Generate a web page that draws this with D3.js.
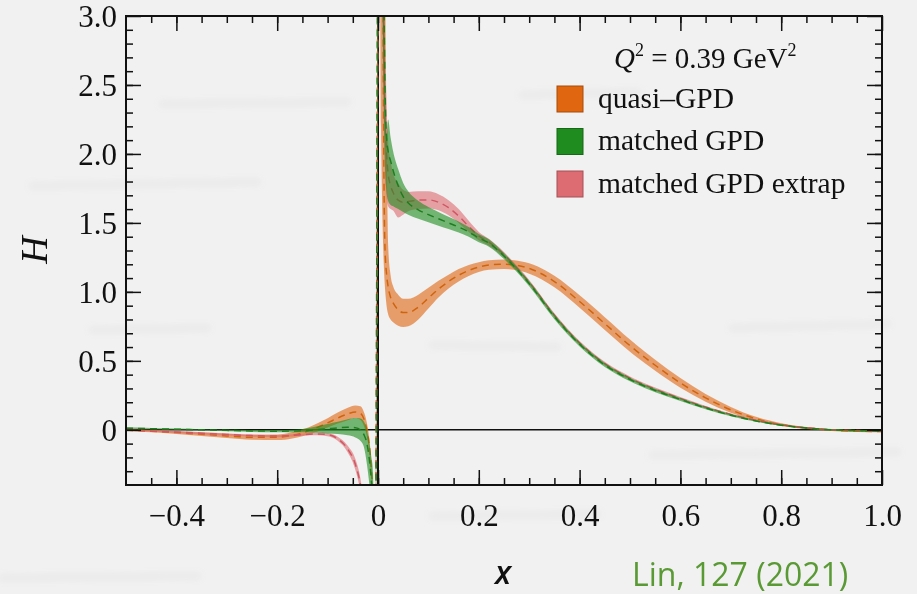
<!DOCTYPE html>
<html>
<head>
<meta charset="utf-8">
<script src="https://cdn.jsdelivr.net/npm/d3@7"></script>
<style>
  body { margin: 0; background: #f1f1f1; overflow: hidden; }
  svg { display: block; }
</style>
</head>
<body>
<div id="chart"></div>
<script>

// x grid shared by the three bands
let xGrid = [-0.5, -0.45, -0.4, -0.35, -0.3, -0.25, -0.2, -0.17, -0.15, -0.12, -0.1, -0.08, -0.06, -0.045, -0.035, -0.028, -0.022, -0.017, -0.013, -0.01, -0.006,
  0.003, 0.006, 0.009, 0.0105, 0.012, 0.014, 0.017, 0.02, 0.025, 0.03, 0.04, 0.05, 0.06, 0.08, 0.1, 0.12, 0.14, 0.16, 0.18, 0.2, 0.22, 0.25, 0.27, 0.3,
  0.35, 0.4, 0.45, 0.5, 0.55, 0.6, 0.65, 0.7, 0.75, 0.8, 0.85, 0.9, 0.95, 1.0]

// quasi-GPD
let quasiMid = [-0.002, -0.01, -0.02, -0.032, -0.044, -0.054, -0.054, -0.04, -0.022, 0.018, 0.05, 0.085, 0.115, 0.13, 0.12, 0.08, 0.0, -0.12, -0.3, -0.5, -1.2,
  5.5, 4.3, 3.4, 2.6, 1.75, 1.3, 1.13, 1.04, 0.96, 0.92, 0.87, 0.85, 0.85, 0.89, 0.955, 1.02, 1.075, 1.12, 1.155, 1.18, 1.195, 1.2, 1.195, 1.17,
  1.075, 0.93, 0.77, 0.61, 0.468, 0.34, 0.232, 0.145, 0.08, 0.038, 0.013, -0.002, -0.01, -0.012]
let quasiLo = [-0.008, -0.018, -0.03, -0.045, -0.06, -0.072, -0.074, -0.062, -0.046, -0.012, 0.016, 0.045, 0.07, 0.085, 0.072, 0.03, -0.05, -0.17, -0.36, -0.56, -1.3,
  3.6, 2.2, 1.5, 1.3, 1.15, 1.02, 0.9, 0.84, 0.8, 0.78, 0.755, 0.745, 0.75, 0.8, 0.88, 0.96, 1.025, 1.075, 1.115, 1.145, 1.16, 1.165, 1.16, 1.132,
  1.033, 0.885, 0.724, 0.566, 0.428, 0.305, 0.204, 0.124, 0.066, 0.028, 0.006, -0.008, -0.016, -0.018]
let quasiHi = [0.004, -0.002, -0.01, -0.02, -0.028, -0.036, -0.034, -0.018, 0.002, 0.048, 0.084, 0.125, 0.16, 0.176, 0.17, 0.13, 0.05, -0.07, -0.24, -0.44, -1.1,
  7, 6, 5, 4.5, 4.0, 3.4, 2.2, 1.35, 1.12, 1.04, 0.98, 0.95, 0.95, 0.98, 1.03, 1.08, 1.125, 1.165, 1.195, 1.215, 1.23, 1.235, 1.23, 1.208,
  1.117, 0.975, 0.816, 0.654, 0.508, 0.375, 0.26, 0.166, 0.094, 0.048, 0.02, 0.004, -0.004, -0.006]

// matched GPD
let matchedMid = [0.012, 0.008, 0.004, 0.0, -0.004, -0.008, -0.01, -0.009, -0.006, 0.002, 0.008, 0.014, 0.018, 0.015, 0.0, -0.035, -0.1, -0.22, -0.38, -0.55, -1.5,
  6.5, 5.0, 4.0, 3.4, 3.0, 2.45, 2.12, 2.02, 1.95, 1.88, 1.77, 1.69, 1.645, 1.595, 1.56, 1.53, 1.5, 1.47, 1.435, 1.39, 1.355, 1.26, 1.185, 1.06,
  0.82, 0.62, 0.47, 0.365, 0.285, 0.22, 0.158, 0.106, 0.064, 0.034, 0.013, 0.0, -0.006, -0.008]
let matchedLo = [0.006, 0.003, -0.001, -0.005, -0.01, -0.015, -0.018, -0.019, -0.018, -0.022, -0.026, -0.03, -0.04, -0.055, -0.08, -0.125, -0.25, -0.4, -0.55, -0.75, -1.8,
  5.5, 4.2, 3.2, 2.6, 2.2, 1.9, 1.72, 1.66, 1.63, 1.62, 1.6, 1.58, 1.56, 1.53, 1.505, 1.48, 1.455, 1.43, 1.4, 1.36, 1.328, 1.238, 1.165, 1.041,
  0.802, 0.604, 0.456, 0.352, 0.273, 0.209, 0.149, 0.098, 0.058, 0.029, 0.009, -0.004, -0.01, -0.012]
let matchedHi = [0.018, 0.013, 0.009, 0.005, 0.002, -0.001, -0.002, 0.001, 0.006, 0.026, 0.042, 0.058, 0.076, 0.085, 0.082, 0.06, 0.0, -0.1, -0.2, -0.3, -1.2,
  7.5, 6, 5, 4.3, 3.6, 2.5, 2.12, 2.25, 2.12, 2.02, 1.89, 1.79, 1.73, 1.66, 1.615, 1.58, 1.545, 1.51, 1.47, 1.42, 1.382, 1.282, 1.205, 1.079,
  0.838, 0.636, 0.484, 0.378, 0.297, 0.231, 0.167, 0.114, 0.07, 0.039, 0.017, 0.004, -0.002, -0.004]

// matched GPD extrap
let extrapMid = [0.0, -0.008, -0.016, -0.025, -0.034, -0.042, -0.045, -0.04, -0.035, -0.03, -0.035, -0.065, -0.14, -0.25, -0.4, -0.6, -0.85, -1.1, -1.4, -1.7, -2.2,
  6.0, 4.6, 3.6, 3.1, 2.7, 2.3, 2.0, 1.86, 1.77, 1.72, 1.665, 1.65, 1.655, 1.665, 1.667, 1.65, 1.61, 1.55, 1.475, 1.405, 1.36, 1.27, 1.195, 1.07,
  0.83, 0.63, 0.48, 0.375, 0.295, 0.228, 0.165, 0.112, 0.069, 0.037, 0.015, 0.001, -0.005, -0.008]
let extrapLo = [-0.006, -0.014, -0.023, -0.033, -0.042, -0.05, -0.053, -0.048, -0.043, -0.04, -0.047, -0.08, -0.165, -0.29, -0.45, -0.66, -0.9, -1.2, -1.5, -1.8, -2.3,
  5.0, 3.8, 2.9, 2.5, 2.15, 1.85, 1.68, 1.62, 1.6, 1.59, 1.54, 1.56, 1.585, 1.6, 1.605, 1.592, 1.555, 1.5, 1.435, 1.375, 1.335, 1.25, 1.177, 1.053,
  0.815, 0.616, 0.467, 0.363, 0.284, 0.218, 0.157, 0.105, 0.063, 0.032, 0.011, -0.003, -0.009, -0.012]
let extrapHi = [0.006, -0.002, -0.009, -0.017, -0.026, -0.034, -0.037, -0.032, -0.027, -0.02, -0.023, -0.05, -0.115, -0.21, -0.35, -0.54, -0.8, -1.0, -1.3, -1.6, -2.1,
  7, 5.5, 4.4, 3.8, 3.3, 2.8, 2.35, 2.1, 1.95, 1.86, 1.79, 1.74, 1.725, 1.73, 1.729, 1.708, 1.665, 1.6, 1.515, 1.435, 1.385, 1.29, 1.213, 1.087,
  0.845, 0.644, 0.493, 0.387, 0.306, 0.238, 0.173, 0.119, 0.075, 0.042, 0.019, 0.005, -0.001, -0.004]

let xTicks = [-0.4, -0.2, 0, 0.2, 0.4, 0.6, 0.8, 1.0]
let xTickLabels = ["\u22120.4", "\u22120.2", "0", "0.2", "0.4", "0.6", "0.8", "1.0"]
let xMinorTicks = d3.range(-9, 20).map(i => i * 0.05)
let yTicks = [0, 0.5, 1.0, 1.5, 2.0, 2.5, 3.0]
let yTickLabels = ["0", "0.5", "1.0", "1.5", "2.0", "2.5", "3.0"]
let yMinorTicks = d3.range(-3, 30).map(i => i * 0.1)

let seriesNames  = ["quasi\u2013GPD", "matched GPD", "matched GPD extrap"]
let seriesColors = ["#e0660f", "#1e8c1e", "#dd6b72"]
let lineColors   = ["#cf6410", "#1f7d1f", "#cf5863"]

let width = 917, height = 594
let margin = {top: 16, right: 35, bottom: 109, left: 126}

let svg = d3.select("#chart")
  .append("svg")
  .attr("width", width)
  .attr("height", height)

// faint brick-wall streaks behind the plot
let streaks = [[160, 104, 350, 102], [30, 186, 260, 182], [90, 330, 210, 328], [730, 328, 890, 324],
  [430, 345, 560, 347], [650, 455, 900, 452], [430, 516, 600, 514], [0, 578, 200, 576], [520, 95, 640, 92]]
let defs = svg.append("defs")
defs.append("filter").attr("id", "blur").append("feGaussianBlur").attr("stdDeviation", 3)
svg.append("g").attr("filter", "url(#blur)")
  .selectAll("line")
  .data(streaks)
  .enter()
  .append("line")
  .attr("x1", d => d[0]).attr("y1", d => d[1])
  .attr("x2", d => d[2]).attr("y2", d => d[3])
  .attr("stroke", "#bdbdbd")
  .attr("stroke-width", 4)
  .attr("opacity", 0.22)

let x = d3.scaleLinear()
  .domain([-0.5, 1.0])
  .range([margin.left, width - margin.right])

let y = d3.scaleLinear()
  .domain([-0.4, 3.0])
  .range([height - margin.bottom, margin.top])

defs.append("clipPath").attr("id", "plotclip")
  .append("rect")
  .attr("x", x(-0.5)).attr("y", y(3.0))
  .attr("width", x(1.0) - x(-0.5)).attr("height", y(-0.4) - y(3.0))

let bands = [
  {mid: quasiMid, lo: quasiLo, hi: quasiHi},
  {mid: matchedMid, lo: matchedLo, hi: matchedHi},
  {mid: extrapMid, lo: extrapLo, hi: extrapHi}
]

let area = d3.area()
  .x(d => x(d.x))
  .y0(d => y(d.lo))
  .y1(d => y(d.hi))
  .curve(d3.curveMonotoneX)

let line = d3.line()
  .x(d => x(d.x))
  .y(d => y(d.mid))
  .curve(d3.curveMonotoneX)

let plot = svg.append("g").attr("clip-path", "url(#plotclip)")

// zero lines
plot.append("line")
  .attr("x1", x(-0.5)).attr("x2", x(1.0))
  .attr("y1", y(0)).attr("y2", y(0))
  .attr("stroke", "#111").attr("stroke-width", 1.5)
plot.append("line")
  .attr("x1", x(0)).attr("x2", x(0))
  .attr("y1", y(3.0)).attr("y2", y(-0.4))
  .attr("stroke", "#111").attr("stroke-width", 2)

// quasi first, then extrap, matched on top
let drawOrder = [0, 2, 1]
drawOrder.forEach(k => {
  let b = bands[k]
  let pts = xGrid.map((xv, i) => ({x: xv, mid: b.mid[i], lo: b.lo[i], hi: b.hi[i]}))
  plot.append("path")
    .datum(pts)
    .attr("d", area)
    .attr("fill", seriesColors[k])
    .attr("fill-opacity", 0.6)
  plot.append("path")
    .datum(pts)
    .attr("d", line)
    .attr("fill", "none")
    .attr("stroke", lineColors[k])
    .attr("stroke-width", 1.5)
    .attr("stroke-dasharray", "7,5")
})

// axes, ticks pointing inwards on all four sides
let tickFont = "'Liberation Serif', 'Times New Roman', serif"

function styleAxis(g) {
  g.select(".domain").remove()
  g.selectAll("line").attr("stroke", "#111").attr("stroke-width", 1.5)
  g.attr("font-family", tickFont).attr("font-size", 31)
  g.selectAll("text").attr("fill", "#111")
}

let xMajor = d3.axisBottom(x).tickValues(xTicks).tickSizeInner(-15).tickSizeOuter(0).tickPadding(19)
  .tickFormat((d, i) => xTickLabels[i])
let xMinor = d3.axisBottom(x).tickValues(xMinorTicks).tickSizeInner(-7).tickSizeOuter(0).tickFormat("")

svg.append("g").attr("transform", "translate(0," + y(-0.4) + ")").call(xMajor).call(styleAxis)
svg.append("g").attr("transform", "translate(0," + y(-0.4) + ")").call(xMinor).call(styleAxis)
svg.append("g").attr("transform", "translate(0," + y(3.0) + ")")
  .call(d3.axisTop(x).tickValues(xTicks).tickSizeInner(-15).tickSizeOuter(0).tickFormat("")).call(styleAxis)
svg.append("g").attr("transform", "translate(0," + y(3.0) + ")")
  .call(d3.axisTop(x).tickValues(xMinorTicks).tickSizeInner(-7).tickSizeOuter(0).tickFormat("")).call(styleAxis)

let yMajor = d3.axisLeft(y).tickValues(yTicks).tickSizeInner(-15).tickSizeOuter(0).tickPadding(9)
  .tickFormat((d, i) => yTickLabels[i])
svg.append("g").attr("transform", "translate(" + x(-0.5) + ",0)").call(yMajor).call(styleAxis)
  .selectAll("text").attr("dy", "0.34em")
svg.append("g").attr("transform", "translate(" + x(-0.5) + ",0)")
  .call(d3.axisLeft(y).tickValues(yMinorTicks).tickSizeInner(-7).tickSizeOuter(0).tickFormat("")).call(styleAxis)
svg.append("g").attr("transform", "translate(" + x(1.0) + ",0)")
  .call(d3.axisRight(y).tickValues(yTicks).tickSizeInner(-15).tickSizeOuter(0).tickFormat("")).call(styleAxis)
svg.append("g").attr("transform", "translate(" + x(1.0) + ",0)")
  .call(d3.axisRight(y).tickValues(yMinorTicks).tickSizeInner(-7).tickSizeOuter(0).tickFormat("")).call(styleAxis)

// frame
svg.append("rect")
  .attr("x", x(-0.5)).attr("y", y(3.0))
  .attr("width", x(1.0) - x(-0.5)).attr("height", y(-0.4) - y(3.0))
  .attr("fill", "none").attr("stroke", "#111").attr("stroke-width", 2)

// axis titles
svg.append("text")
  .attr("transform", "translate(47,250) rotate(-90)")
  .attr("text-anchor", "middle")
  .attr("font-family", tickFont).attr("font-style", "italic").attr("font-size", 38)
  .attr("fill", "#111")
  .text("H")

svg.append("text")
  .attr("x", 503).attr("y", 584)
  .attr("text-anchor", "middle")
  .attr("font-family", "'Open Sans', sans-serif").attr("font-style", "italic").attr("font-weight", 600)
  .attr("font-size", 32).attr("fill", "#111")
  .text("x")

svg.append("text")
  .attr("x", 632).attr("y", 586)
  .attr("font-family", "'Open Sans', sans-serif").attr("font-size", 32)
  .attr("fill", "#5a9a34")
  .text("Lin, 127 (2021)")

// legend
let legendTitle = svg.append("text")
  .attr("x", 614).attr("y", 68)
  .attr("font-family", tickFont).attr("font-size", 29).attr("fill", "#111")
legendTitle.append("tspan").attr("font-style", "italic").text("Q")
legendTitle.append("tspan").attr("font-size", 18).attr("dy", -12).text("2")
legendTitle.append("tspan").attr("dy", 12).text(" = 0.39 GeV")
legendTitle.append("tspan").attr("font-size", 18).attr("dy", -12).text("2")

let legend = svg.append("g").attr("transform", "translate(557,86)")
let rows = legend.selectAll("g")
  .data(seriesNames)
  .enter()
  .append("g")
  .attr("transform", (d, i) => "translate(0," + i * 42.5 + ")")

rows.append("rect")
  .attr("width", 26).attr("height", 26)
  .attr("fill", (d, i) => seriesColors[i])
  .attr("stroke", (d, i) => d3.color(seriesColors[i]).darker(0.8))
  .attr("stroke-width", 1)

rows.append("text")
  .attr("x", 41).attr("y", 21.5)
  .attr("font-family", tickFont).attr("font-size", 29.5).attr("fill", "#111")
  .text(d => d)

</script>
</body>
</html>
